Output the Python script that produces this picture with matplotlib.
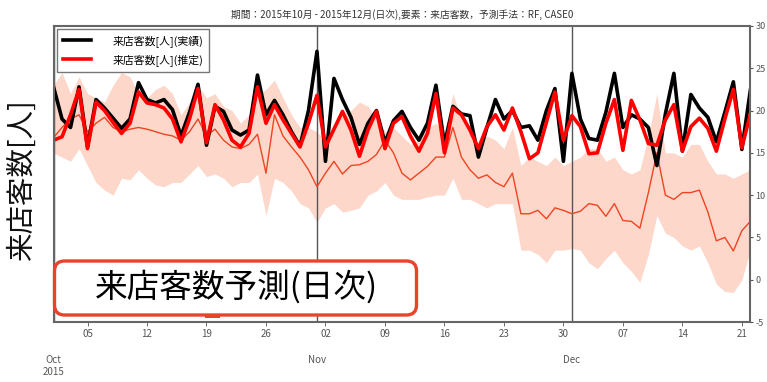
import numpy as np
import pandas as pd
import matplotlib
matplotlib.use("Agg")
import matplotlib.pyplot as plt
import matplotlib.dates as mdates
from matplotlib.patches import FancyBboxPatch, Rectangle

plt.rcParams['font.family'] = ['Noto Sans CJK JP', 'DejaVu Sans']

dates = pd.date_range("2015-10-01", "2015-12-22", freq="D")

# 実績
actual = [22.8, 19.0, 18.0, 22.8, 15.7, 21.3, 20.3, 19.1, 17.9, 19.0,
          23.3, 21.3, 20.9, 21.3, 20.1, 17.0, 19.8, 23.1, 15.9, 20.5,
          19.9, 17.7, 17.1, 17.7, 24.2, 19.5, 21.2, 19.5, 17.5, 15.8,
          20.0, 27.0, 14.0, 23.8, 21.3, 19.2, 16.0, 18.5, 20.0, 16.2,
          18.8, 19.9, 18.0, 16.5, 18.5, 23.0, 16.0, 20.5, 19.6, 19.4,
          14.5, 18.0, 21.3, 19.0, 20.0, 18.0, 18.2, 16.5, 20.0, 22.6,
          14.0, 24.4, 19.0, 16.7, 16.5, 19.8, 24.4, 18.0, 19.5, 19.0,
          18.0, 13.5, 19.6, 24.4, 15.2, 21.9, 20.3, 19.2, 16.3, 19.8,
          23.4, 15.4, 22.4]

# 推定
estimate = [16.5, 16.9, 19.5, 22.5, 15.5, 21.0, 20.0, 18.6, 17.3, 18.5,
            22.2, 20.9, 20.7, 20.3, 19.0, 16.3, 19.0, 22.6, 16.2, 20.7,
            18.9, 16.5, 15.7, 17.3, 22.8, 18.5, 20.7, 18.9, 17.3, 15.7,
            18.5, 21.8, 15.7, 17.8, 19.9, 17.7, 14.6, 17.7, 19.9, 15.5,
            18.5, 19.3, 17.0, 15.2, 17.3, 22.0, 15.0, 20.3, 19.5, 17.7,
            15.5, 18.1, 19.5, 17.7, 20.3, 17.5, 14.3, 15.0, 18.6, 22.2,
            16.5, 19.4, 18.1, 14.9, 15.0, 18.5, 21.3, 15.3, 21.2, 18.9,
            16.1, 15.9, 18.9, 20.7, 15.2, 18.1, 19.1, 17.9, 15.2, 19.0,
            22.5, 15.6, 19.6]

# 予測平均と区間
forecast = [16.8, 18.0, 19.0, 19.5, 17.5, 18.5, 19.2, 18.0, 17.5, 17.8,
            18.0, 17.8, 17.5, 17.2, 17.0, 16.5, 17.5, 19.0, 17.0, 17.8,
            16.5, 15.7, 15.5, 16.0, 17.2, 12.6, 19.5, 17.0, 15.7, 14.5,
            13.0, 11.0, 12.6, 14.0, 12.5, 13.5, 13.6, 14.0, 14.8, 16.5,
            15.0, 12.6, 11.8, 12.6, 13.4, 14.5, 14.5, 18.0, 14.5, 13.0,
            12.0, 12.4, 11.5, 11.0, 12.6, 7.8, 7.8, 8.2, 7.2, 8.5,
            8.2, 7.8, 8.1, 9.0, 8.8, 7.5, 9.0, 7.0, 6.9, 6.1,
            10.3, 15.0, 10.0, 9.5, 10.3, 10.3, 10.6, 8.0, 4.6, 5.0,
            3.4, 5.8, 6.9]

upper = [23.0, 24.5, 22.0, 24.0, 22.0, 21.5, 21.0, 23.0, 24.5, 24.0,
         22.0, 21.5, 22.5, 23.0, 22.0, 19.5, 21.0, 23.0, 21.5, 22.0,
         20.5, 20.0, 18.5, 19.5, 22.0, 22.5, 23.6, 21.5, 19.5, 18.0,
         18.0, 17.5, 16.5, 18.5, 19.5, 20.0, 21.0, 20.5, 19.0, 17.5,
         18.0, 17.0, 16.0, 16.5, 18.0, 18.5, 17.5, 22.0, 19.0, 17.5,
         16.0, 17.0, 16.5, 15.5, 18.0, 13.5, 14.5, 14.0, 13.5, 14.5,
         13.5, 14.0, 14.5, 15.5, 15.5, 14.0, 14.5, 13.0, 12.5, 13.0,
         17.0, 22.0, 15.0, 15.0, 14.5, 16.0, 16.0, 14.0, 12.5, 12.5,
         12.0, 12.5, 13.0]

lower = [15.0, 14.5, 14.0, 15.5, 13.5, 11.5, 10.6, 10.0, 12.0, 11.8,
         13.0, 12.0, 11.2, 11.0, 11.5, 11.5, 12.5, 13.5, 12.2, 12.5,
         12.0, 11.0, 11.5, 11.5, 12.5, 7.6, 12.0, 11.5, 10.5, 9.0,
         8.5, 6.8, 8.5, 9.0, 8.0, 8.2, 8.5, 10.0, 10.5, 11.5,
         10.0, 9.5, 9.5, 9.5, 9.8, 10.0, 10.0, 12.0, 9.5, 9.5,
         9.0, 8.5, 9.0, 9.0, 9.0, 3.5, 3.5, 3.0, 2.0, 3.5,
         3.5, 3.7, 3.5, 2.0, 1.3, 2.5, 3.5, 2.0, 1.0, -0.3,
         3.0, 7.6, 5.5, 5.0, 4.0, 3.5, 4.0, 2.0, -0.5, -1.4,
         -1.5, 0.0, 3.5]

yticks = [-5, 0, 5, 10, 15, 20, 25, 30]
month_labels = ["Oct\n2015", "Nov", "Dec"]

fig = plt.figure(figsize=(7.67, 3.82), dpi=100)
ax = fig.add_axes([0.0698, 0.157, 0.9085, 0.775])

ax.fill_between(dates, lower, upper, color="#f8a082", alpha=0.42, lw=0)
ax.plot(dates, forecast, color="#ee4422", lw=1.0)
ax.plot(dates, actual, color="black", lw=2.6, label="来店客数[人](実績)")
ax.plot(dates, estimate, color="red", lw=2.6, label="来店客数[人](推定)")

ax.set_xlim(dates[0], dates[-1])
ax.set_ylim(-5, 30)

ax.yaxis.tick_right()
ax.set_yticks(yticks)
ax.set_yticklabels([str(v) for v in yticks])
ax.tick_params(axis="y", labelsize=6.5, colors="#555555", length=2, pad=1.5)

# 月の区切り(主目盛)と週ごとの日付(副目盛)
ax.set_xticks(dates[[0, 31, 61]])
ax.set_xticklabels(month_labels, va="top")
ax.xaxis.set_minor_locator(mdates.WeekdayLocator(byweekday=mdates.MO))
ax.xaxis.set_minor_formatter(mdates.DateFormatter("%d"))
ax.tick_params(axis="x", which="minor", labelsize=7, colors="#555555", length=3, pad=2)
ax.tick_params(axis="x", which="major", labelsize=7, colors="#555555", length=0, pad=24)
ax.grid(True, which="major", axis="x", color="#555555", lw=1.0)

for s in ax.spines.values():
    s.set_color("#666666")
    s.set_linewidth(1.5)

ax.legend(loc="upper left", fontsize=7.8, frameon=True, fancybox=False,
          edgecolor="#555555", handlelength=2.6, handletextpad=2.0,
          borderpad=0.55, labelspacing=0.65, borderaxespad=0.3)

ax.set_title("期間：2015年10月 - 2015年12月(日次),要素：来店客数，予測手法：RF, CASE0",
             fontsize=7, color="#333333", pad=6)

fig.text(0.029, 0.528, "来店客数[人]", rotation=90, fontsize=20.5,
         ha="center", va="center", color="#111111")

# 見出しボックス
box = FancyBboxPatch((0.545, 0.67), 3.62, 0.54, boxstyle="round,pad=0,rounding_size=0.1",
                     transform=fig.dpi_scale_trans, facecolor="white",
                     edgecolor="#e8432b", lw=2.4, zorder=10)
fig.patches.append(box)
fig.patches.append(Rectangle((2.05, 0.645), 0.15, 0.04, transform=fig.dpi_scale_trans,
                             facecolor="#e8432b", edgecolor="none", zorder=11))
fig.text(2.365, 0.955, "来店客数予測(日次)", transform=fig.dpi_scale_trans,
         fontsize=23.5, ha="center", va="center", color="black", zorder=12)

fig.savefig("out.png", dpi=100)
